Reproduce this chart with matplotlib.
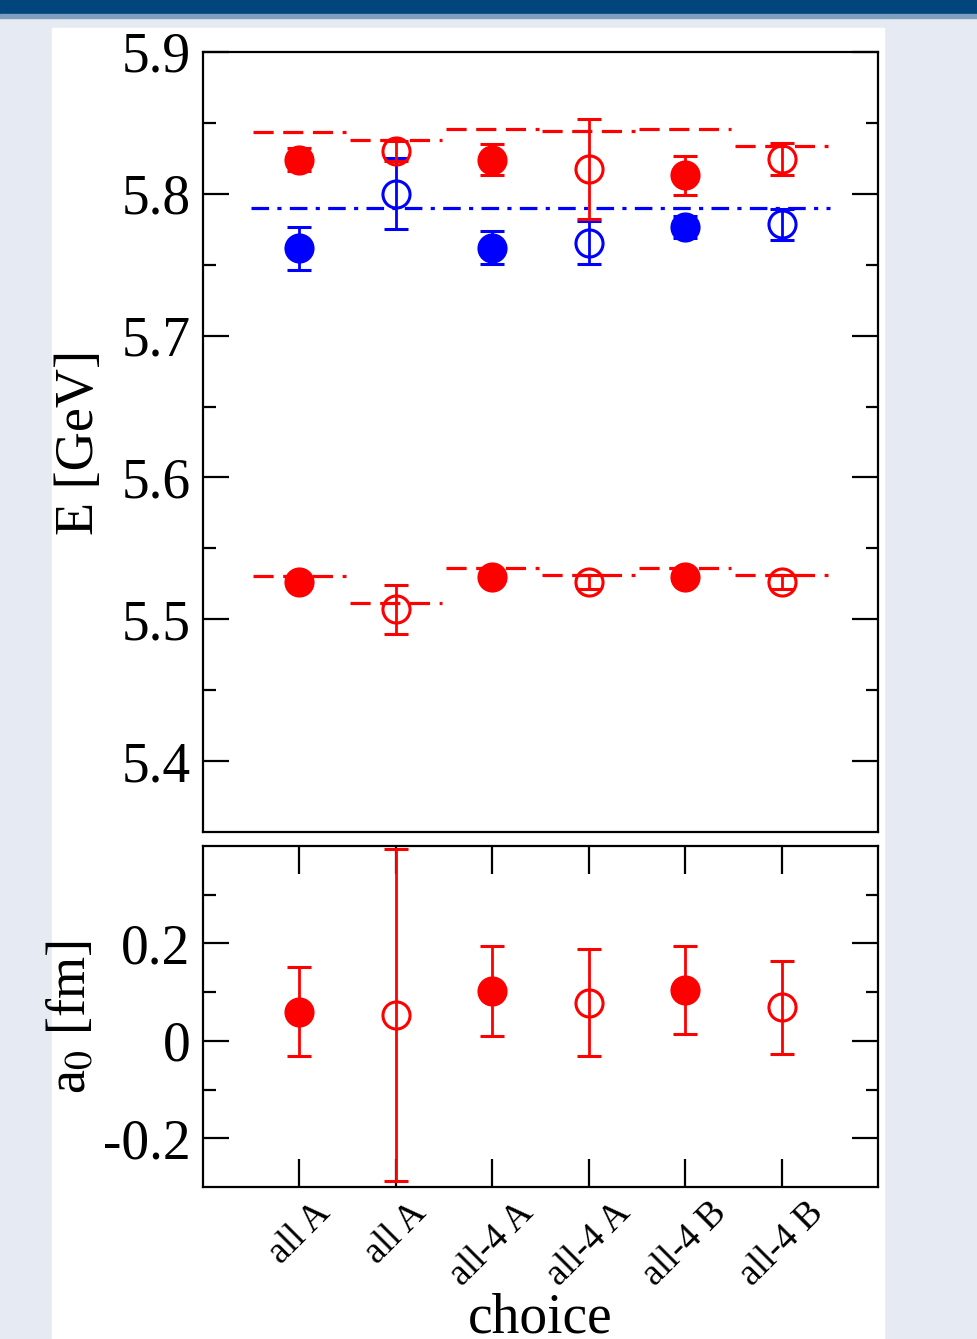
import matplotlib.pyplot as plt
import numpy as np
from matplotlib.patches import Rectangle

plt.rcParams['font.family'] = ['Liberation Serif', 'DejaVu Serif']
plt.rcParams['mathtext.fontset'] = 'stix'

# data
labels = ["all A", "all A", "all-4 A", "all-4 A", "all-4 B", "all-4 B"]
filled = [True, False, True, False, True, False]

E_red_up = [5.824, 5.830, 5.824, 5.8175, 5.813, 5.8245]
E_red_up_err = [0.008, 0.007, 0.011, 0.035, 0.014, 0.0115]
E_blue = [5.7615, 5.800, 5.762, 5.7655, 5.7765, 5.7785]
E_blue_err = [0.015, 0.025, 0.0115, 0.015, 0.008, 0.011]
E_red_low = [5.5265, 5.507, 5.5297, 5.526, 5.5297, 5.526]
E_red_low_err = [0.003, 0.0175, 0.003, 0.005, 0.003, 0.005]

fit_up = [5.8435, 5.8376, 5.8456, 5.844, 5.8456, 5.834]
fit_low = [5.5302, 5.5118, 5.5359, 5.5312, 5.5359, 5.5312]
blue_level = 5.7897

a0 = [0.060, 0.053, 0.102, 0.078, 0.104, 0.069]
a0_err = [0.092, 0.341, 0.092, 0.110, 0.090, 0.095]

x = np.arange(1, len(labels) + 1)

W, H = 977, 1339
fig = plt.figure(figsize=(W / 100, H / 100), dpi=100)
fig.patch.set_facecolor('#e6ebf3')
# page decoration: dark bar on top and white sheet
fig.add_artist(Rectangle((0, 1 - 14 / H), 1, 14 / H, transform=fig.transFigure,
                         color='#00457c', zorder=-10))
fig.add_artist(Rectangle((0, 1 - 18 / H), 1, 4 / H, transform=fig.transFigure,
                         color='#7f9fbf', zorder=-10))
fig.add_artist(Rectangle((52 / W, 0), (884 - 52) / W, 1 - 28 / H, transform=fig.transFigure,
                         color='white', zorder=-10))

ax1 = fig.add_axes([203 / W, 1 - 832 / H, 675 / W, 780 / H])
ax2 = fig.add_axes([203 / W, 1 - 1187 / H, 675 / W, 341 / H])

ms = 19.5
cap = 8.5


def draw_points(ax, yv, ye, color):
    for xi, yi, ei, f in zip(x, yv, ye, filled):
        ax.errorbar(xi, yi, yerr=ei, fmt='o', color=color, ms=ms,
                    mfc=color if f else 'none', mec=color, mew=2.2,
                    elinewidth=2.0, capsize=cap, capthick=2.8, zorder=3)


# upper panel
for xi, yv in zip(x, fit_up):
    ax1.plot([xi - 0.48, xi + 0.48], [yv, yv], color='red', lw=2.3, dashes=(6.3, 3))
for xi, yv in zip(x, fit_low):
    ax1.plot([xi - 0.48, xi + 0.48], [yv, yv], color='red', lw=2.3, dashes=(6.3, 3))
ax1.plot([0.5, 6.5], [blue_level, blue_level], color='blue', lw=2.3,
         dashes=(5.5, 2.6, 1.3, 2.6))

draw_points(ax1, E_blue, E_blue_err, 'blue')
draw_points(ax1, E_red_up, E_red_up_err, 'red')
draw_points(ax1, E_red_low, E_red_low_err, 'red')

ax1.set_xlim(0, 7)
ax1.set_ylim(5.35, 5.9)
ax1.set_yticks([5.4, 5.5, 5.6, 5.7, 5.8, 5.9])
ax1.set_yticks(np.arange(5.35, 5.9, 0.05)[1:], minor=True)
ax1.set_xticks([])
ax1.tick_params(axis='y', which='both', direction='in', left=True, right=True,
                width=1.6, labelsize=40, pad=9)
ax1.tick_params(axis='y', which='major', length=19)
ax1.tick_params(axis='y', which='minor', length=9)
ax1.set_ylabel('E [GeV]', fontsize=39, labelpad=12)

# lower panel
draw_points(ax2, a0, a0_err, 'red')
ax2.set_xlim(0, 7)
ax2.set_ylim(-0.3, 0.4)
ax2.set_yticks([-0.2, 0, 0.2])
ax2.set_yticklabels(['-0.2', '0', '0.2'])
ax2.set_yticks([-0.1, 0.1, 0.3], minor=True)
ax2.set_xticks(x)
ax2.set_xticklabels(labels, rotation=45)
ax2.tick_params(axis='y', which='both', direction='in', left=True, right=True,
                width=1.6, labelsize=40, pad=9)
ax2.tick_params(axis='y', which='major', length=19)
ax2.tick_params(axis='y', which='minor', length=9)
ax2.tick_params(axis='x', direction='in', top=True, bottom=True, length=20,
                width=1.6, labelsize=27, pad=6)
ax2.set_ylabel('a$_0$ [fm]', fontsize=39, labelpad=4)
ax2.set_xlabel('choice', fontsize=40, labelpad=0)

for ax in (ax1, ax2):
    for s in ax.spines.values():
        s.set_linewidth(1.6)

fig.savefig('out.png', dpi=100, facecolor=fig.get_facecolor())
